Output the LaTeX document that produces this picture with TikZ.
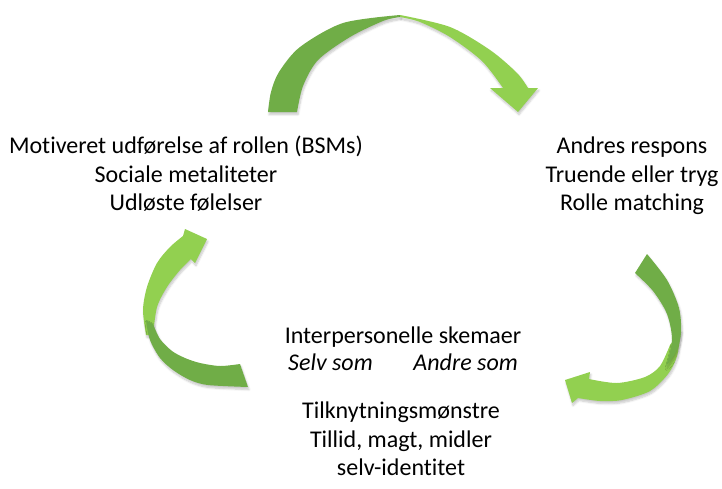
\documentclass[tikz,border=0pt]{standalone}
\usepackage{fontspec}
\setmainfont{Carlito}[Ligatures={NoCommon}]
\usetikzlibrary{shadows.blur}
\definecolor{leafdark}{HTML}{70AD47}
\definecolor{leaflight}{HTML}{92D050}
\begin{document}
\begin{tikzpicture}[x=1pt,y=-1pt,
  softshadow/.style={blur shadow={shadow xshift=1pt, shadow yshift=-2.5pt,
      shadow opacity=22, shadow blur radius=2pt, shadow blur steps=6}},
  darkband/.style={fill=leafdark, softshadow},
  lightband/.style={fill=leaflight, softshadow},
  txt/.style={font=\fontsize{24}{29}\selectfont, inner sep=0pt, anchor=base},
]
\useasboundingbox (0,0) rectangle (722,488);

% top ribbon arrow
\fill[darkband] plot[smooth] coordinates {(268,112) (271,92) (279,72) (300,47) (343,23) (400,15)}
  -- plot[smooth] coordinates {(400,17) (383,21) (350,37) (318,60) (303,86) (297,112)} -- cycle;
\fill[lightband] plot[smooth] coordinates {(400,15) (450,27) (490,50) (517,73) (528,88)}
  -- (538,88) -- (518,112) -- (490,88)
  -- plot[smooth] coordinates {(503,88) (482,61) (450,37) (420,22) (400,17)} -- cycle;

% right ribbon arrow
\fill[lightband] plot[smooth] coordinates {(681,330) (677,356) (668,374) (650,391) (622,400) (600,401) (578,398)}
  -- (572,403) -- (565,380) -- (590,372)
  -- plot[smooth] coordinates {(589,379) (617,383) (645,377) (660,366) (670,345)} -- cycle;
\fill[darkband] plot[smooth] coordinates {(647,254) (667,280) (679,308) (681,333) (676,352) (666,366)}
  -- plot[smooth] coordinates {(666,366) (672,340) (667,314) (653,291) (635,273)} -- cycle;

% left ribbon arrow
\fill[lightband] (185,229) -- (207,239) -- (195,263)
  -- plot[smooth] coordinates {(191,259) (180,270) (167,287) (157,307) (153,335)}
  -- plot[smooth] coordinates {(146,335) (143,310) (147,287) (157,263) (170,247) (183,236)} -- cycle;
\fill[darkband] plot[smooth] coordinates {(146,320) (150,340) (160,358) (173,370) (190,380) (208,385) (248,387)}
  -- plot[smooth] coordinates {(240,364) (220,366) (200,363) (185,358) (172,351) (160,339) (153,324)} -- cycle;

% texts
\node[txt] (m1) at (186,153) {Motiveret udførelse af rollen (BSMs)};
\node[txt] (m2) at (186,182) {Sociale metaliteter};
\node[txt] (m3) at (186,210) {Udløste følelser};
\node[txt] (r1) at (632,153) {Andres respons};
\node[txt] (r2) at (632,182) {Truende eller tryg};
\node[txt] (r3) at (632,210) {Rolle matching};
\node[txt] (i1) at (403,343) {Interpersonelle skemaer};
\node[txt, anchor=base west] (i2) at (288,370) {\itshape Selv som};
\node[txt, anchor=base east] (i3) at (518,370) {\itshape Andre som};
\node[txt] (t1) at (401,418) {Tilknytningsmønstre};
\node[txt] (t2) at (401,447) {Tillid, magt, midler};
\node[txt] (t3) at (401,475) {selv-identitet};
\end{tikzpicture}
\end{document}
